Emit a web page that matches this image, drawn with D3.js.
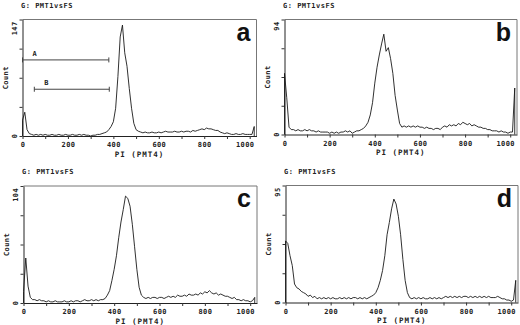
<!DOCTYPE html>
<html>
<head>
<meta charset="utf-8">
<script src="https://cdn.jsdelivr.net/npm/d3@7"></script>
<style>
  body { margin: 0; background: #fff; }
  svg text { font-family: "DejaVu Sans Mono", monospace; fill: #222; font-weight: bold; }
</style>
</head>
<body>
<script>
var width = 520, height = 325;

// PI (PMT4) channel bins, one value every 10 channels
var channels = d3.range(0, 1021, 10);

var countsA = [20, 30, 8, 3, 2, 1, 2, 1, 2, 1, 2, 1, 1, 2, 1, 1, 2, 1, 1, 2,
  1, 1, 2, 1, 1, 2, 1, 2, 1, 1, 0, 1, 1, 2, 2, 3, 4, 5, 8, 12,
  18, 35, 75, 125, 140, 105, 88, 60, 35, 16, 8, 6, 5, 4, 5, 4, 4, 5, 4, 4,
  5, 4, 5, 6, 5, 5, 5, 6, 5, 5, 6, 5, 6, 6, 5, 7, 6, 7, 8, 9,
  8, 10, 9, 9, 8, 7, 7, 5, 4, 3, 4, 3, 2, 2, 3, 2, 2, 3, 2, 2,
  2, 2, 12];
var countsB = [50, 30, 6, 4, 4, 3, 4, 3, 3, 4, 3, 4, 3, 3, 2, 3, 2, 2, 2, 2,
  1, 2, 1, 2, 1, 2, 2, 3, 2, 3, 1, 2, 3, 3, 4, 5, 7, 10, 16, 26,
  42, 55, 65, 74, 82, 68, 71, 62, 50, 32, 20, 9, 6, 7, 6, 7, 6, 7, 6, 7,
  6, 6, 5, 6, 5, 5, 4, 5, 5, 4, 6, 7, 6, 8, 7, 8, 7, 9, 8, 10,
  9, 8, 9, 7, 8, 7, 6, 6, 5, 5, 4, 4, 3, 3, 3, 2, 3, 2, 2, 1,
  2, 2, 38];
var countsC = [10, 40, 15, 5, 3, 3, 2, 3, 2, 2, 1, 2, 1, 1, 2, 1, 1, 1, 2, 1,
  1, 2, 1, 2, 2, 1, 2, 3, 2, 2, 3, 2, 3, 2, 3, 3, 4, 7, 11, 20,
  30, 42, 58, 72, 83, 95, 93, 86, 70, 50, 30, 14, 7, 5, 4, 5, 4, 5, 5, 4,
  5, 5, 4, 5, 6, 5, 6, 5, 7, 6, 6, 7, 6, 8, 7, 7, 8, 7, 9, 8,
  10, 9, 11, 9, 8, 9, 7, 8, 7, 6, 6, 5, 4, 5, 3, 3, 2, 3, 2, 2,
  1, 2, 5];
var countsD = [50, 48, 38, 30, 15, 12, 11, 9, 8, 7, 5, 6, 4, 5, 3, 4, 3, 4, 3, 4,
  3, 4, 3, 3, 4, 3, 4, 3, 4, 3, 4, 4, 3, 4, 3, 4, 3, 4, 5, 6,
  8, 12, 18, 26, 38, 55, 65, 76, 84, 80, 70, 55, 35, 18, 8, 4, 3, 4, 3, 4,
  3, 4, 3, 3, 4, 3, 4, 3, 4, 3, 4, 5, 4, 5, 4, 5, 4, 5, 4, 5,
  5, 4, 5, 4, 5, 4, 5, 4, 5, 4, 5, 4, 4, 4, 5, 4, 3, 3, 2, 2,
  1, 2, 18];

var panelLetters = ["a", "b", "c", "d"];
var panelCounts = [countsA, countsB, countsC, countsD];
var yMax = [147, 94, 104, 95];
var gateTitle = "G: PMT1vsFS";
var xTitle = "PI (PMT4)";
var yTitle = "Count";
var xTicks = [0, 100, 200, 300, 400, 500, 600, 700, 800, 900, 1000];
var xTickLabels = [0, 200, 400, 600, 800, 1000];

// marker gates drawn in panel a
var gateNames = ["A", "B"];
var gateFrom = [0, 52];
var gateTo = [380, 382];
var gateLevel = [96, 59];

// plot boxes
var boxes = [
  {x0: 22.5, x1: 256.5, y0: 19.5, y1: 136},
  {x0: 284.5, x1: 517, y0: 19.5, y1: 134.5},
  {x0: 23.5, x1: 257, y0: 186, y1: 303},
  {x0: 285.5, x1: 518, y0: 185.5, y1: 302.5}
];

var svg = d3.select("body").append("svg")
    .attr("width", width)
    .attr("height", height);

panelLetters.forEach(function(letter, i) { drawPanel(i); });

function drawPanel(i) {
  var b = boxes[i];
  var g = svg.append("g");
  var x = d3.scaleLinear().domain([0, 1030]).range([b.x0, b.x1]);
  var y = d3.scaleLinear().domain([0, yMax[i]]).range([b.y1, b.y0]);

  // top + right frame
  g.append("path")
    .attr("d", "M" + b.x0 + "," + b.y0 + "H" + b.x1 + "V" + b.y1)
    .attr("fill", "none")
    .attr("stroke", "#777")
    .attr("stroke-width", 1);

  // x axis
  var xa = g.append("g")
    .attr("transform", "translate(0," + b.y1 + ")")
    .call(d3.axisBottom(x)
      .tickValues(xTicks)
      .tickSizeInner(3)
      .tickSizeOuter(0)
      .tickFormat(function(d) { return xTickLabels.indexOf(d) >= 0 ? d : ""; }));
  xa.attr("font-family", null).attr("font-size", null);
  xa.select(".domain").attr("stroke", "#222");
  xa.selectAll(".tick line").attr("stroke", "#333");
  xa.selectAll("text")
    .attr("y", 11).attr("dy", null)
    .style("font-size", "7px")
    .style("letter-spacing", "0.4px")
    .attr("dx", function(d) { return d === 1000 ? -5 : 0; });

  // y axis
  var ya = g.append("g")
    .attr("transform", "translate(" + b.x0 + ",0)")
    .call(d3.axisLeft(y)
      .tickValues([0, yMax[i] / 4, yMax[i] / 2, yMax[i] * 3 / 4, yMax[i]])
      .tickSizeInner(3)
      .tickSizeOuter(0)
      .tickFormat(""));
  ya.select(".domain").attr("stroke", "#222");
  ya.selectAll(".tick line").attr("stroke", "#333");

  // rotated y labels
  var yl = [
    {t: yMax[i], v: yMax[i], anchor: "end", dx: -2, px: b.x0 - 8},
    {t: 0, v: 0, anchor: "middle", dx: 0, px: b.x0 - 8},
    {t: yTitle, v: yMax[i] / 2, anchor: "middle", dx: 0, px: b.x0 - 17}
  ];
  g.selectAll(".ylab").data(yl).enter().append("text")
    .attr("class", "ylab")
    .attr("transform", function(d) { return "translate(" + d.px + "," + y(d.v) + ") rotate(-90)"; })
    .attr("dx", function(d) { return d.dx; })
    .attr("dy", "0.35em")
    .attr("text-anchor", function(d) { return d.anchor; })
    .style("font-size", "7px")
    .style("letter-spacing", "0.4px")
    .text(function(d) { return d.t; });

  // x title
  g.append("text")
    .attr("x", (b.x0 + b.x1) / 2)
    .attr("y", b.y1 + 20.5)
    .attr("text-anchor", "middle")
    .style("font-size", "7.5px")
    .style("letter-spacing", "1px")
    .text(xTitle);

  // gate title
  g.append("text")
    .attr("x", b.x0 - 1.5)
    .attr("y", b.y0 - 12)
    .style("font-size", "7px")
    .style("letter-spacing", "0.5px")
    .text(gateTitle);

  // panel letter
  g.append("text")
    .attr("x", b.x1 - 6)
    .attr("y", b.y0 + 21)
    .attr("text-anchor", "end")
    .style("font-family", "'Liberation Sans', Arial, sans-serif")
    .style("font-size", "25px")
    .style("fill", "#111")
    .text(panelLetters[i]);

  // histogram trace
  var counts = panelCounts[i];
  var pts = [[0, 0]].concat(channels.map(function(c, j) { return [c, counts[j]]; }));
  pts.push([channels[channels.length - 1], 0]);
  var line = d3.line()
    .x(function(d) { return x(d[0]); })
    .y(function(d) { return y(Math.min(d[1], yMax[i])); });
  g.append("path")
    .datum(pts)
    .attr("d", line)
    .attr("fill", "none")
    .attr("stroke", "#1a1a1a")
    .attr("stroke-width", 0.9);

  // gate markers (panel a only)
  if (i === 0) {
    gateNames.forEach(function(name, k) {
      var gx0 = x(gateFrom[k]), gx1 = x(gateTo[k]), gy = y(gateLevel[k]);
      g.append("line")
        .attr("x1", gx0).attr("x2", gx1).attr("y1", gy).attr("y2", gy)
        .attr("stroke", "#444").attr("stroke-width", 1);
      [gx0, gx1].forEach(function(ex) {
        g.append("line")
          .attr("x1", ex).attr("x2", ex).attr("y1", gy - 2.5).attr("y2", gy + 2.5)
          .attr("stroke", "#444").attr("stroke-width", 1);
      });
      g.append("text")
        .attr("x", gx0 + 10)
        .attr("y", gy - 4)
        .style("font-size", "7px")
        .text(name);
    });
  }
}
</script>
</body>
</html>
